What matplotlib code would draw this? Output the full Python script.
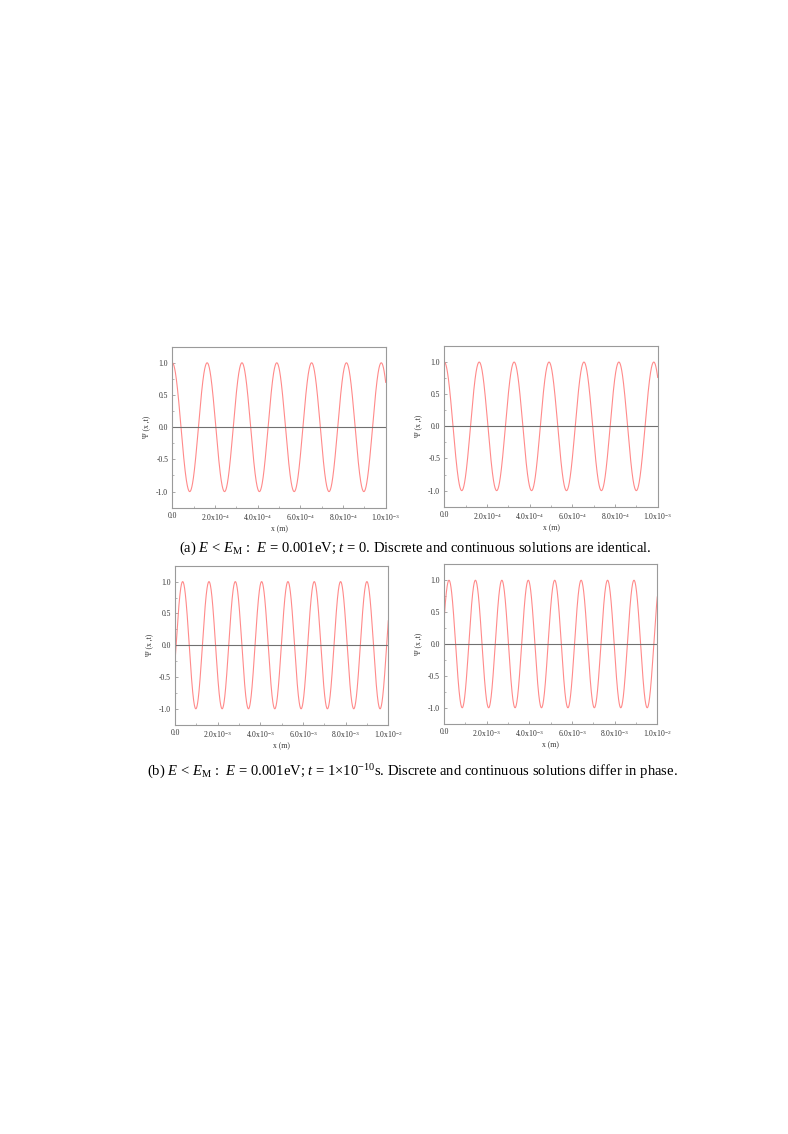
import numpy as np
import matplotlib
matplotlib.use("Agg")
import matplotlib.pyplot as plt
from matplotlib.ticker import MultipleLocator, FixedLocator, FixedFormatter

plt.rcParams['font.family'] = ['Liberation Serif', 'DejaVu Serif']
plt.rcParams['mathtext.fontset'] = 'custom'
plt.rcParams['mathtext.rm'] = 'Liberation Serif'
plt.rcParams['mathtext.it'] = 'Liberation Serif:italic'
plt.rcParams['mathtext.default'] = 'regular'

# ---- data ----
# wave parameters per panel: (x max [m], wavelength [m], position of first crest [m])
panel_xmax = [1.0e-3, 1.0e-3, 1.0e-2, 1.0e-2]
panel_wavelength = [1.632e-4, 1.636e-4, 1.234e-3, 1.239e-3]
panel_crest = [0.0, 0.0, 3.59e-4, 2.34e-4]

top_tick_vals = [0.0, 2.0e-4, 4.0e-4, 6.0e-4, 8.0e-4, 1.0e-3]
top_tick_labels = ["0.0", "2.0x10$^{-4}$", "4.0x10$^{-4}$", "6.0x10$^{-4}$",
                   "8.0x10$^{-4}$", "1.0x10$^{-3}$"]
bot_tick_vals = [0.0, 2.0e-3, 4.0e-3, 6.0e-3, 8.0e-3, 1.0e-2]
bot_tick_labels = ["0.0", "2.0x10$^{-3}$", "4.0x10$^{-3}$", "6.0x10$^{-3}$",
                   "8.0x10$^{-3}$", "1.0x10$^{-2}$"]
y_tick_vals = [-1.0, -0.5, 0.0, 0.5, 1.0]
y_tick_labels = ["-1.0", "-0.5", "0.0", "0.5", "1.0"]

caption_a = ("(a) $\\it{E}$ < $\\it{E}_{\\rm M}$ :  $\\it{E}$ = 0.001eV; $\\it{t}$ = 0. "
             "Discrete and continuous solutions are identical.")
caption_b = ("(b) $\\it{E}$ < $\\it{E}_{\\rm M}$ :  $\\it{E}$ = 0.001eV; $\\it{t}$ = 1\u00d710$^{-10}$s. "
             "Discrete and continuous solutions differ in phase.")

W, H = 788, 1134
fig = plt.figure(figsize=(W / 100, H / 100), dpi=100)

# axes boxes in pixels: (left, top, right, bottom)
boxes = [(172.3, 346.7, 385.7, 507.7),
         (444.3, 346.0, 657.7, 506.7),
         (175.0, 565.7, 388.3, 724.7),
         (444.0, 564.3, 657.3, 723.7)]

frame_col = '#9a9a9a'
for i, (l, t, r, b) in enumerate(boxes):
    ax = fig.add_axes([l / W, 1 - b / H, (r - l) / W, (b - t) / H])
    xmax = panel_xmax[i]
    x = np.linspace(0, xmax, 3000)
    psi = np.cos(2 * np.pi * (x - panel_crest[i]) / panel_wavelength[i])
    ax.plot(x, psi, color='#ff8a8a', lw=0.8)
    ax.axhline(0, color='#707070', lw=0.8)
    ax.set_xlim(0, xmax)
    ax.set_ylim(-1.25, 1.25)
    if i < 2:
        tv, tl = top_tick_vals, top_tick_labels
    else:
        tv, tl = bot_tick_vals, bot_tick_labels
    ax.xaxis.set_major_locator(FixedLocator(tv))
    ax.xaxis.set_major_formatter(FixedFormatter(tl))
    ax.xaxis.set_minor_locator(MultipleLocator(xmax / 10))
    ax.yaxis.set_major_locator(FixedLocator(y_tick_vals))
    ax.yaxis.set_major_formatter(FixedFormatter(y_tick_labels))
    ax.yaxis.set_minor_locator(MultipleLocator(0.25))
    ax.tick_params(which='both', direction='in', color=frame_col, labelsize=5.5,
                   labelcolor='#333333', pad=3)
    ax.tick_params(which='major', length=2.5, width=0.6)
    ax.tick_params(which='minor', length=1.5, width=0.5)
    ax.tick_params(top=False, right=False)
    for s in ax.spines.values():
        s.set_color(frame_col)
        s.set_linewidth(0.8)
    ax.set_xlabel("x (m)", fontsize=5.5, labelpad=2, color='#333333')
    ax.set_ylabel("\u03a8 (x ,t)", fontsize=5.5, labelpad=4, color='#333333')

fig.text(0.5 * (172.3 + 657.7) / W, 1 - 548 / H, caption_a, ha='center', va='center',
         fontsize=10.5, color='black')
fig.text(0.5 * (148 + 676) / W, 1 - 772 / H, caption_b, ha='center', va='center',
         fontsize=10.5, color='black')

fig.savefig("out.png", dpi=100, facecolor='white')
